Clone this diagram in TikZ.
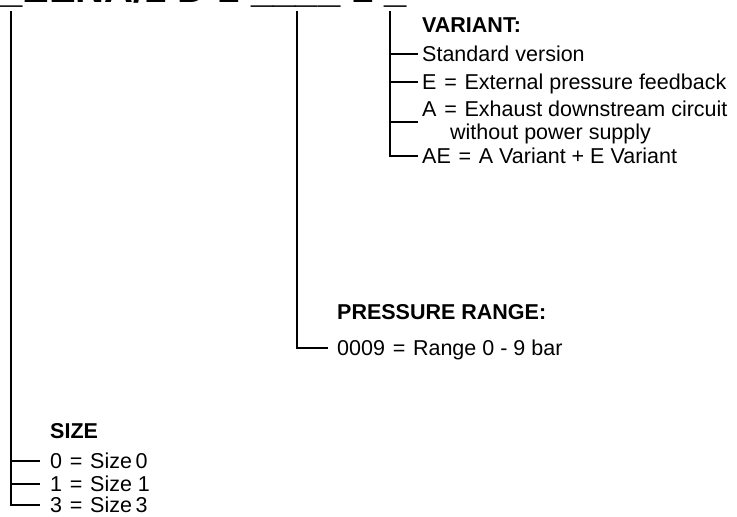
\documentclass[tikz,border=0pt]{standalone}
\usepackage{fontspec}
\setmainfont{Liberation Sans}
\newcommand{\optEq}{\hspace{0.36em}=\hspace{0.36em}}
\begin{document}
\begin{tikzpicture}[
    x=1pt, y=-1pt,
    opt/.style={anchor=west, inner sep=0pt, text height=15pt, text depth=0pt,
      font=\fontsize{21.5}{23}\selectfont},
    head/.style={opt, font=\fontsize{21.5}{23}\selectfont\bfseries},
    link/.style={line width=1.2pt}
  ]
  \useasboundingbox (0,0) rectangle (737,517);
  % code line above, cut at the top edge
  \begin{scope}
    \clip (0,0) rectangle (737,14);
    \node[anchor=base west, inner sep=0pt, font=\fontsize{40}{40}\selectfont\bfseries]
      (code) at (0,2.5) {\_EENA/1 D 1 \_\_\_\_ 1 \_};
  \end{scope}
  \coordinate (sztop) at (11,11);
  \coordinate (prtop) at (297,11);
  \coordinate (vartop) at (390,11);

  % variant
  \node[head] (var) at (422,25) {VARIANT:};
  \node[opt] (vstd) at (422,54) {Standard version};
  \node[opt] (vext) at (422,82) {E\optEq External pressure feedback};
  \node[opt, align=left, text height=, text depth=] (vexh) at (422,122)
    {A\optEq Exhaust downstream circuit\\\hspace{28pt}without power supply};
  \node[opt] (vae) at (422,156) {AE\optEq A Variant + E Variant};

  \draw[link] (vartop) |- ([xshift=-4pt]vae.west);
  \foreach \n in {vstd, vext, vexh}
    \draw[link] (vartop |- \n.west) -- ([xshift=-4pt]\n.west);

  % pressure range
  \node[head] (press) at (337,312) {PRESSURE RANGE:};
  \node[opt] (p9) at (337,348) {0009\optEq Range 0 - 9 bar};
  \draw[link] (prtop) |- ([xshift=-9pt]p9.west);

  % size
  \node[head] (size) at (50,431) {SIZE};
  \node[opt] (s0) at (50,461) {0\optEq Size\,0};
  \node[opt] (s1) at (50,484) {1\optEq Size 1};
  \node[opt] (s3) at (50,505) {3\optEq Size\,3};
  \draw[link] (sztop) |- ([xshift=-10pt]s3.west);
  \foreach \n in {s0, s1}
    \draw[link] (sztop |- \n.west) -- ([xshift=-10pt]\n.west);
\end{tikzpicture}
\end{document}
